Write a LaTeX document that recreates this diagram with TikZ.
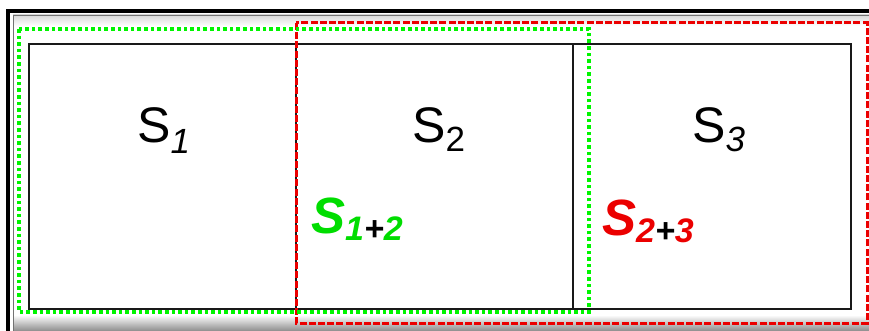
\documentclass[tikz,border=0pt]{standalone}
\usepackage{fontspec}
\setmainfont{Liberation Sans}
\definecolor{brgreen}{RGB}{0,245,0}
\definecolor{brred}{RGB}{235,0,0}
\tikzset{
  cell/.style={draw=black!90, line width=1.7pt},
  grpgreen/.style={draw=brgreen, line width=3.6pt, dash pattern=on 3.6pt off 3pt},
  grpred/.style={draw=brred, line width=3pt, dash pattern=on 7pt off 2.2pt},
  biglab/.style={anchor=base west, inner sep=0pt, font=\fontsize{50}{50}\selectfont},
  grplab/.style={anchor=base west, inner sep=0pt, font=\fontsize{51}{51}\selectfont\bfseries\itshape},
}
\newcommand{\subsc}[2]{\raisebox{-#1}{\fontsize{35}{35}\selectfont #2}}
\newcommand{\gsub}[1]{\raisebox{-7pt}{\fontsize{34}{34}\selectfont\bfseries\itshape #1}}
\begin{document}
\begin{tikzpicture}[x=1pt,y=-1pt]
\useasboundingbox (0,0) rectangle (869,331);
% outer frame with bevel
\shade[top color=white, bottom color=black!45] (13,315) rectangle (880,331);
\shade[top color=black!15, bottom color=white] (13,15) rectangle (880,26);
\draw[black!55, line width=1pt] (13,331) -- (13,15.5) -- (880,15.5);
\draw[black, line width=4.2pt] (8,340) -- (8,11) -- (880,11);
% cells
\node[cell, minimum width=267pt, minimum height=265pt, inner sep=0pt, anchor=north west] (s1) at (28,43) {};
\node[cell, minimum width=277pt, minimum height=265pt, inner sep=0pt, anchor=north west] (s2) at (295,43) {};
\node[cell, minimum width=278pt, minimum height=265pt, inner sep=0pt, anchor=north west] (s3) at (572,43) {};
% group outlines
\draw[grpred] (296,23) rectangle (867,323);
\draw[grpgreen] (19,29) rectangle (589,312);
% labels
\node[biglab] (l1) at (137,143) {S\subsc{10pt}{\itshape 1}};
\node[biglab] (l2) at (412,143) {S\subsc{9pt}{2}};
\node[biglab] (l3) at (692,143) {S\subsc{9pt}{\itshape 3}};
\node[grplab, text=brgreen!90!black] (g12) at (311,233) {S\gsub{1}\gsub{\textcolor{black}{+}}\gsub{2}};
\node[grplab, text=brred] (g23) at (602,235) {S\gsub{2}\gsub{\textcolor{black}{+}}\gsub{3}};
\end{tikzpicture}
\end{document}
